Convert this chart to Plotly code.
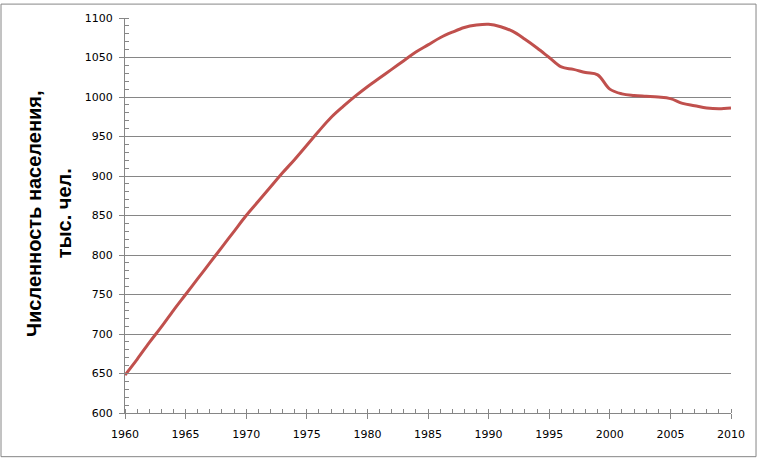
import plotly.graph_objects as go

# population, thousand people
years = list(range(1960, 2011))
population = [648, 668, 689, 709, 730, 750, 770, 790, 810, 830,
              850, 868, 886, 904, 921, 939, 957, 974, 988, 1001,
              1013, 1024, 1035, 1046, 1057, 1066, 1075, 1082, 1088, 1091,
              1092, 1089, 1083, 1073, 1062, 1050, 1038, 1035, 1031, 1028,
              1010, 1004, 1002, 1001, 1000, 998, 992, 989, 986, 985,
              986]

x_ticks = list(range(1960, 2011, 5))
y_ticks = list(range(600, 1101, 50))

title_line1 = "Численность населения,"
title_line2 = "тыс. чел."

axis_grey = "#868686"
tick_font = dict(family="DejaVu Sans", size=11, color="#000000")

fig = go.Figure()
fig.add_trace(go.Scatter(x=years, y=population, mode="lines",
                         line=dict(color="#C0504D", width=3, shape="spline"),
                         showlegend=False))

fig.update_layout(
    width=762, height=459,
    margin=dict(l=125, r=31, t=15, b=46),
    paper_bgcolor="white", plot_bgcolor="white",
    xaxis=dict(range=[1960, 2010], tickvals=x_ticks, showgrid=False,
               showline=True, linecolor=axis_grey, linewidth=1,
               ticks="outside", ticklen=5, tickcolor=axis_grey,
               minor=dict(ticks="inside", dtick=1, ticklen=4, tickcolor=axis_grey),
               tickfont=tick_font, ticklabelstandoff=6, zeroline=False),
    yaxis=dict(range=[600, 1100], tickvals=y_ticks, showgrid=True,
               gridcolor=axis_grey, gridwidth=1,
               showline=True, linecolor=axis_grey, linewidth=1,
               ticks="outside", ticklen=5, tickcolor=axis_grey,
               minor=dict(ticks="inside", dtick=10, ticklen=4, tickcolor=axis_grey,
                          showgrid=False),
               tickfont=tick_font, ticklabelstandoff=4, zeroline=False),
)

# two-line bold axis title as rotated annotations
title_font = dict(family="Liberation Sans", size=20, color="black", weight="bold")
fig.add_annotation(text=title_line1, xref="paper", yref="paper",
                   x=-0.151, y=0.505, xanchor="center", yanchor="middle",
                   textangle=-90, showarrow=False, font=title_font)
fig.add_annotation(text=title_line2, xref="paper", yref="paper",
                   x=-0.101, y=0.505, xanchor="center", yanchor="middle",
                   textangle=-90, showarrow=False, font=title_font)

# outer chart border
fig.add_shape(type="rect", xref="paper", yref="paper",
              x0=-0.2046, x1=1.0413, y0=-0.1106, y1=1.0352,
              line=dict(color=axis_grey, width=1), layer="below")

# drop the default page margin so the figure sits at the window corner
fig.write_html("out.html", config={"displayModeBar": False},
               post_script="document.body.style.margin='0';")
